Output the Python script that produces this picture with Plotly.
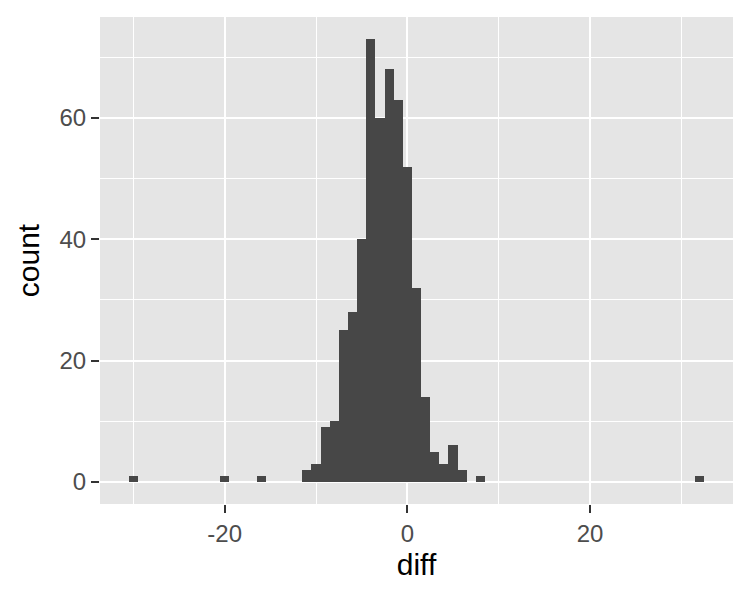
import plotly.graph_objects as go

# Histogram (binwidth = 1, bins centred on integers)
bin_centers = [-30, -20, -16, -11, -10, -9, -8, -7, -6, -5, -4, -3, -2, -1, 0,
               1, 2, 3, 4, 5, 6, 8, 32]
counts = [1, 1, 1, 2, 3, 9, 10, 25, 28, 40, 73, 60, 68, 63, 52,
          32, 14, 5, 3, 6, 2, 1, 1]
binwidth = 1

x_ticks = [-20, 0, 20]
x_minor = [-30, -10, 10, 30]
y_ticks = [0, 20, 40, 60]
y_minor = [10, 30, 50, 70]

FONT = "Liberation Sans, Arial, Helvetica, sans-serif"

fig = go.Figure(go.Bar(
    x=bin_centers, y=counts, width=binwidth,
    marker=dict(color="#474747", line=dict(width=0)),
    hoverinfo="x+y",
))

xmin = min(bin_centers) - binwidth / 2
xmax = max(bin_centers) + binwidth / 2
xpad = (xmax - xmin) * 0.05
ymax = max(counts)
ypad = ymax * 0.05

axis_common = dict(
    showgrid=True, gridcolor="white", gridwidth=2.4,
    zeroline=False, showline=False,
    ticks="outside", ticklen=8, tickwidth=2.4, tickcolor="#333333",
    tickfont=dict(family=FONT, size=24, color="#4D4D4D"),
    automargin=False,
)

# page body has an 8px margin, so the figure is sized to fit the window
fig.update_layout(
    width=742, height=592,
    margin=dict(l=92, r=17, t=9, b=96),
    paper_bgcolor="white", plot_bgcolor="#E5E5E5",
    showlegend=False,
    bargap=0,
    font=dict(family=FONT, color="black"),
    xaxis=dict(
        range=[xmin - xpad, xmax + xpad],
        tickvals=x_ticks, ticktext=[str(v) for v in x_ticks],
        title=dict(text="diff", font=dict(family=FONT, size=30, color="black"), standoff=8),
        minor=dict(tickvals=x_minor, showgrid=True, gridcolor="white", gridwidth=1.2, ticks=""),
        **axis_common,
    ),
    yaxis=dict(
        range=[-ypad, ymax + ypad],
        tickvals=y_ticks, ticktext=[str(v) for v in y_ticks],
        title=dict(text="count", font=dict(family=FONT, size=30, color="black"), standoff=10),
        minor=dict(tickvals=y_minor, showgrid=True, gridcolor="white", gridwidth=1.2, ticks=""),
        **axis_common,
    ),
)

fig.write_html("out.html")
